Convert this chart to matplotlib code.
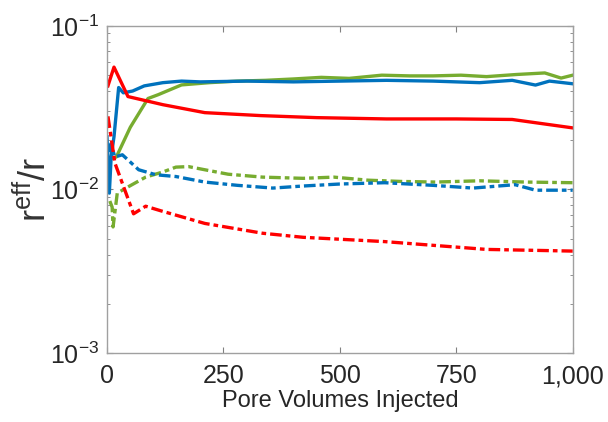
import matplotlib
matplotlib.use("Agg")
import matplotlib.pyplot as plt
from matplotlib.ticker import FuncFormatter, LogLocator, NullFormatter

plt.rcParams['font.family'] = ['Liberation Sans', 'DejaVu Sans']
plt.rcParams['mathtext.fontset'] = 'custom'
plt.rcParams['mathtext.rm'] = 'Liberation Sans'
plt.rcParams['mathtext.default'] = 'regular'

# Data
red_x = [2, 15, 45, 120, 210, 330, 450, 600, 750, 870, 1000]
red_y = [0.043, 0.056, 0.037, 0.033, 0.0295, 0.0283, 0.0275, 0.0270, 0.0270, 0.0268, 0.0238]

red_d_x = [2, 17, 57, 83, 116, 210, 334, 421, 596, 815, 1000]
red_d_y = [0.028, 0.0145, 0.0071, 0.0079, 0.0074, 0.0062, 0.0054, 0.0051, 0.0048, 0.0043, 0.0042]

blue_x = [0, 5, 9, 15, 25, 35, 55, 80, 120, 160, 200, 300, 400, 500, 600, 700, 800, 870, 920, 950, 1000]
blue_y = [0.021, 0.0095, 0.016, 0.021, 0.042, 0.039, 0.040, 0.043, 0.045, 0.046, 0.0455, 0.046, 0.0455, 0.046, 0.0465, 0.046, 0.045, 0.0465, 0.0435, 0.046, 0.0443]

blue_d_x = [2, 8, 17, 33, 68, 105, 148, 210, 280, 356, 421, 500, 596, 700, 786, 876, 920, 1000]
blue_d_y = [0.012, 0.019, 0.0158, 0.0163, 0.0132, 0.0123, 0.0120, 0.0111, 0.0106, 0.0102, 0.0105, 0.0108, 0.0110, 0.0106, 0.0102, 0.0107, 0.0099, 0.0099]

green_x = [10, 20, 50, 88, 110, 160, 220, 280, 340, 400, 460, 520, 590, 650, 700, 760, 815, 880, 940, 975, 1000]
green_y = [0.0155, 0.0158, 0.024, 0.036, 0.038, 0.0436, 0.045, 0.046, 0.0465, 0.0474, 0.0485, 0.0478, 0.050, 0.0495, 0.0495, 0.050, 0.049, 0.0505, 0.0516, 0.048, 0.050]

green_d_x = [6, 11, 13, 22, 46, 83, 120, 148, 175, 210, 260, 334, 421, 487, 560, 630, 705, 800, 900, 1000]
green_d_y = [0.0085, 0.0078, 0.0059, 0.0095, 0.0104, 0.0119, 0.0128, 0.0137, 0.0138, 0.0132, 0.0124, 0.0119, 0.0117, 0.0119, 0.0114, 0.0112, 0.0111, 0.0113, 0.0111, 0.0110]

xticks = [0, 250, 500, 750, 1000]

RED = '#FF0000'
BLUE = '#0072BD'
GREEN = '#77AC30'
dashdot = (0, (3.5, 1.2, 1.4, 1.2))

fig = plt.figure(figsize=(6.08, 4.22), dpi=100)
ax = fig.add_axes([0.176, 0.1635, 0.766, 0.775])

lw = 2.4
ax.plot(green_x, green_y, color=GREEN, lw=lw)
ax.plot(blue_x, blue_y, color=BLUE, lw=lw)
ax.plot(red_x, red_y, color=RED, lw=lw)
ax.plot(green_d_x, green_d_y, color=GREEN, lw=lw, linestyle=dashdot)
ax.plot(blue_d_x, blue_d_y, color=BLUE, lw=lw, linestyle=dashdot)
ax.plot(red_d_x, red_d_y, color=RED, lw=lw, linestyle=dashdot)

ax.set_yscale('log')
ax.set_ylim(1e-3, 1e-1)
ax.set_xlim(0, 1000)
ax.set_xticks(xticks)
ax.xaxis.set_major_formatter(FuncFormatter(lambda v, p: f"{int(v):,}"))
ax.yaxis.set_minor_locator(LogLocator(base=10, subs=range(2, 10)))
ax.yaxis.set_minor_formatter(NullFormatter())

for s in ax.spines.values():
    s.set_color('#A0A0A0')
    s.set_linewidth(1.0)
ax.tick_params(which='both', direction='in', top=True, right=True, color='#808080',
               labelsize=18, labelcolor='#262626', pad=6)
ax.tick_params(axis='x', pad=8)
ax.tick_params(which='major', length=4)
ax.tick_params(which='minor', length=2.5)
ax.tick_params(axis='x', which='minor', bottom=False, top=False)

ax.set_xlabel('Pore Volumes Injected', fontsize=17, color='#262626', labelpad=1)
ax.set_ylabel('r$^{eff}$/r', fontsize=26, color='#333333', labelpad=-3)

fig.savefig('out.png', dpi=100)
